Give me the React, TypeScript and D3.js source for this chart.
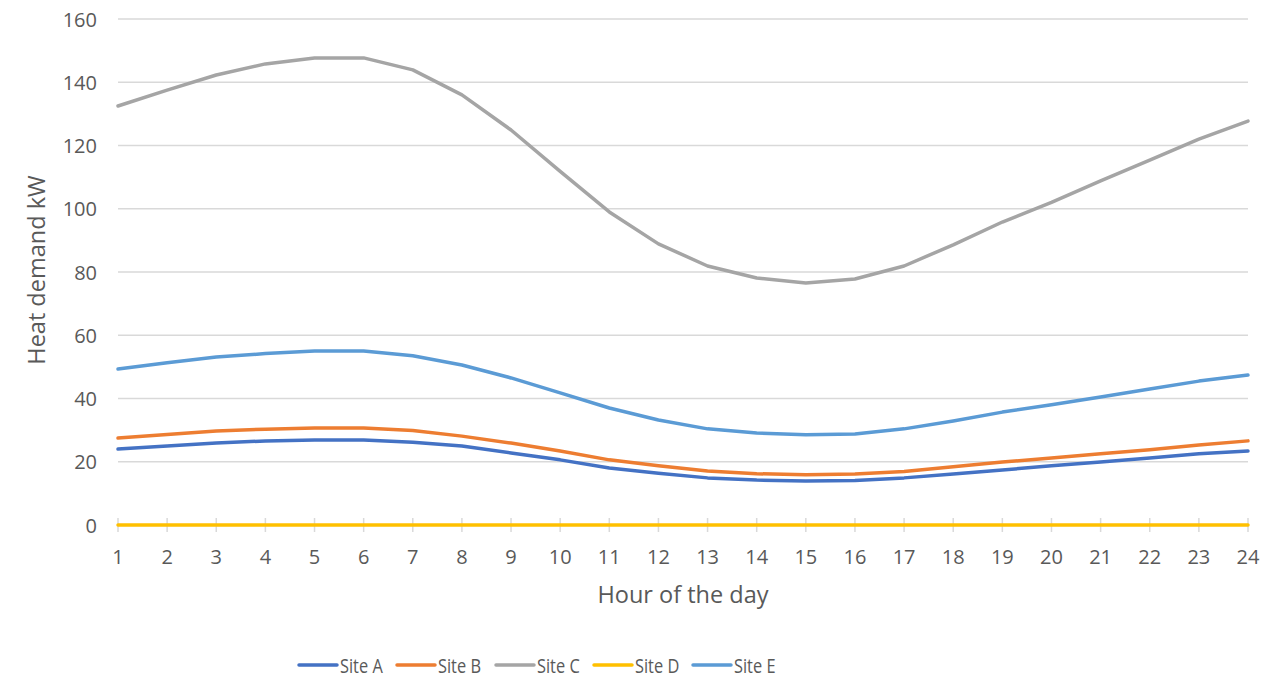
import React from "react";
import * as d3 from "d3";

// Hourly heat demand per site (kW)
const hours: number[] = d3.range(1, 25);
const siteNames: string[] = ["Site A", "Site B", "Site C", "Site D", "Site E"];
const siteA: number[] = [24.0, 25.0, 25.9, 26.6, 26.9, 26.9, 26.2, 25.0, 22.8, 20.6, 18.0, 16.4, 14.9, 14.2, 13.9, 14.1, 14.9, 16.1, 17.4, 18.7, 19.9, 21.2, 22.5, 23.4];
const siteB: number[] = [27.5, 28.6, 29.7, 30.3, 30.7, 30.7, 29.9, 28.1, 25.9, 23.4, 20.6, 18.7, 17.1, 16.2, 15.9, 16.1, 16.9, 18.4, 19.9, 21.2, 22.5, 23.8, 25.3, 26.6];
const siteC: number[] = [132.5, 137.5, 142.3, 145.8, 147.7, 147.7, 143.9, 136.0, 124.9, 111.8, 99.0, 88.9, 81.9, 78.1, 76.5, 77.8, 81.9, 88.6, 95.8, 102.0, 108.8, 115.4, 122.0, 127.7];
const siteD: number[] = hours.map(() => 0);
const siteE: number[] = [49.3, 51.3, 53.1, 54.2, 55.0, 55.0, 53.5, 50.6, 46.5, 41.8, 37.0, 33.2, 30.4, 29.1, 28.5, 28.8, 30.4, 32.9, 35.7, 38.0, 40.5, 43.0, 45.5, 47.4];
const yTicks: number[] = [0, 20, 40, 60, 80, 100, 120, 140, 160];

const seriesValues: number[][] = [siteA, siteB, siteC, siteD, siteE];
const seriesColors: string[] = ["#4472C4", "#ED7D31", "#A5A5A5", "#FFC000", "#5B9BD5"];

const W = 1278;
const H = 679;
const left = 118;
const right = 1248;
const top = 19;
const bottom = 525;
const textColor = "#595959";
const fontFamily = "'Open Sans', sans-serif";

export default function App() {
  const x = d3.scaleLinear().domain([1, 24]).range([left, right]);
  const y = d3.scaleLinear().domain([0, 160]).range([bottom, top]);
  const line = d3
    .line<number>()
    .x((_, i) => x(hours[i]))
    .y((v) => y(v));

  const legendStarts = [299, 397, 496, 594, 693];

  return (
    <svg
      width={W}
      height={H}
      style={{ position: "absolute", left: 0, top: 0, background: "#fff" }}
      fontFamily={fontFamily}
    >
      {/* horizontal gridlines */}
      {yTicks.map((t) => (
        <line key={"g" + t} x1={left} x2={right} y1={y(t)} y2={y(t)} stroke="#D9D9D9" strokeWidth={1.5} />
      ))}
      {/* x tick marks */}
      {hours.map((h) => (
        <line key={"t" + h} x1={x(h)} x2={x(h)} y1={bottom - 7} y2={bottom + 7} stroke="#D9D9D9" strokeWidth={1.5} />
      ))}
      {/* y tick labels */}
      {yTicks.map((t) => (
        <text key={"yl" + t} x={97} y={y(t)} textAnchor="end" dominantBaseline="central" fontSize={20} fill={textColor}>
          {t}
        </text>
      ))}
      {/* x tick labels */}
      {hours.map((h) => (
        <text key={"xl" + h} x={x(h)} y={564} textAnchor="middle" fontSize={20} fill={textColor}>
          {h}
        </text>
      ))}
      {/* series */}
      {seriesValues.map((vals, i) => (
        <path
          key={"s" + i}
          d={line(vals) || ""}
          fill="none"
          stroke={seriesColors[i]}
          strokeWidth={3.5}
          strokeLinejoin="round"
          strokeLinecap="round"
        />
      ))}
      {/* axis titles */}
      <text x={683} y={603} textAnchor="middle" fontSize={23.5} fill={textColor}>
        Hour of the day
      </text>
      <text
        transform={`translate(36, 270) rotate(-90)`}
        textAnchor="middle"
        dominantBaseline="central"
        fontSize={23.5}
        fill={textColor}
      >
        Heat demand kW
      </text>
      {/* legend */}
      {siteNames.map((name, i) => (
        <g key={"lg" + i}>
          <line
            x1={legendStarts[i]}
            x2={legendStarts[i] + 38}
            y1={665}
            y2={665}
            stroke={seriesColors[i]}
            strokeWidth={3.5}
            strokeLinecap="round"
          />
          <text
            transform={`translate(${legendStarts[i] + 41}, 665) scale(0.84, 1)`}
            dominantBaseline="central"
            fontSize={19.5}
            fill={textColor}
          >
            {name}
          </text>
        </g>
      ))}
    </svg>
  );
}
